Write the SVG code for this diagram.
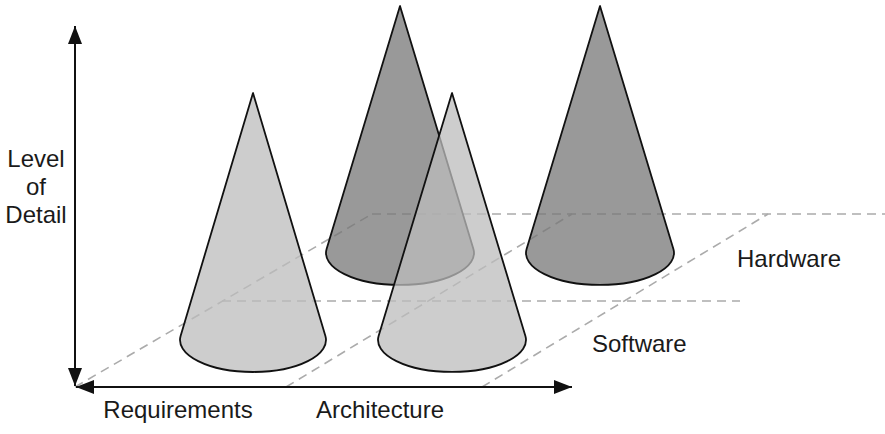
<svg xmlns="http://www.w3.org/2000/svg" width="885" height="434" viewBox="0 0 885 434">
<defs>
<style>
.lbl{font-family:"Liberation Sans",Arial,sans-serif;font-size:24px;fill:#1a1a1a}
.dash{stroke:#ababab;stroke-width:1.6;stroke-dasharray:9 6;fill:none}
.axis{stroke:#111;stroke-width:2;fill:none}
.light{fill:#bcbcbc;fill-opacity:0.75;stroke:#111;stroke-width:1.8;stroke-linejoin:round}
.dark{fill:#777;fill-opacity:0.75;stroke:#111;stroke-width:1.8;stroke-linejoin:round}
</style>
<marker id="ah" viewBox="0 0 18 14" refX="18" refY="7" markerWidth="18" markerHeight="14" markerUnits="userSpaceOnUse" orient="auto-start-reverse">
<path d="M0,0 L18,7 L0,14 Z" fill="#111"/>
</marker>
</defs>
<g id="plane">
<line class="dash" x1="75" y1="387" x2="372" y2="214"/>
<line class="dash" x1="372" y1="214" x2="885" y2="214"/>
<line class="dash" x1="286" y1="387" x2="572" y2="214"/>
<line class="dash" x1="482" y1="387" x2="768" y2="214"/>
<line class="dash" x1="222" y1="301" x2="740" y2="301"/>
</g>
<g id="connectors">
<line class="axis" x1="75" y1="26" x2="75" y2="386" marker-start="url(#ah)" marker-end="url(#ah)"/>
<line class="axis" x1="76" y1="387" x2="572" y2="387" marker-start="url(#ah)" marker-end="url(#ah)"/>
</g>
<g id="cone-hw-arch">
<path class="dark" d="M400,6 L326.6,248.9 A74,32 0 1 0 473.4,248.9 Z"/>
</g>
<g id="cone-hw-right">
<path class="dark" d="M600,6 L526.6,248.9 A74,32 0 1 0 673.4,248.9 Z"/>
</g>
<g id="cone-sw-req">
<path class="light" d="M253,93 L180.6,335.9 A73,32 0 1 0 325.4,335.9 Z"/>
</g>
<g id="cone-sw-arch">
<path class="light" d="M452,93 L378.6,335.9 A74,32 0 1 0 525.4,335.9 Z"/>
</g>
<g id="labels">
<text class="lbl" x="36" y="167" text-anchor="middle">Level</text>
<text class="lbl" x="36" y="195" text-anchor="middle">of</text>
<text class="lbl" x="36" y="223" text-anchor="middle">Detail</text>
<text class="lbl" x="178" y="418" text-anchor="middle">Requirements</text>
<text class="lbl" x="380" y="418" text-anchor="middle">Architecture</text>
<text class="lbl" x="737" y="267">Hardware</text>
<text class="lbl" x="592" y="352">Software</text>
</g>
</svg>
